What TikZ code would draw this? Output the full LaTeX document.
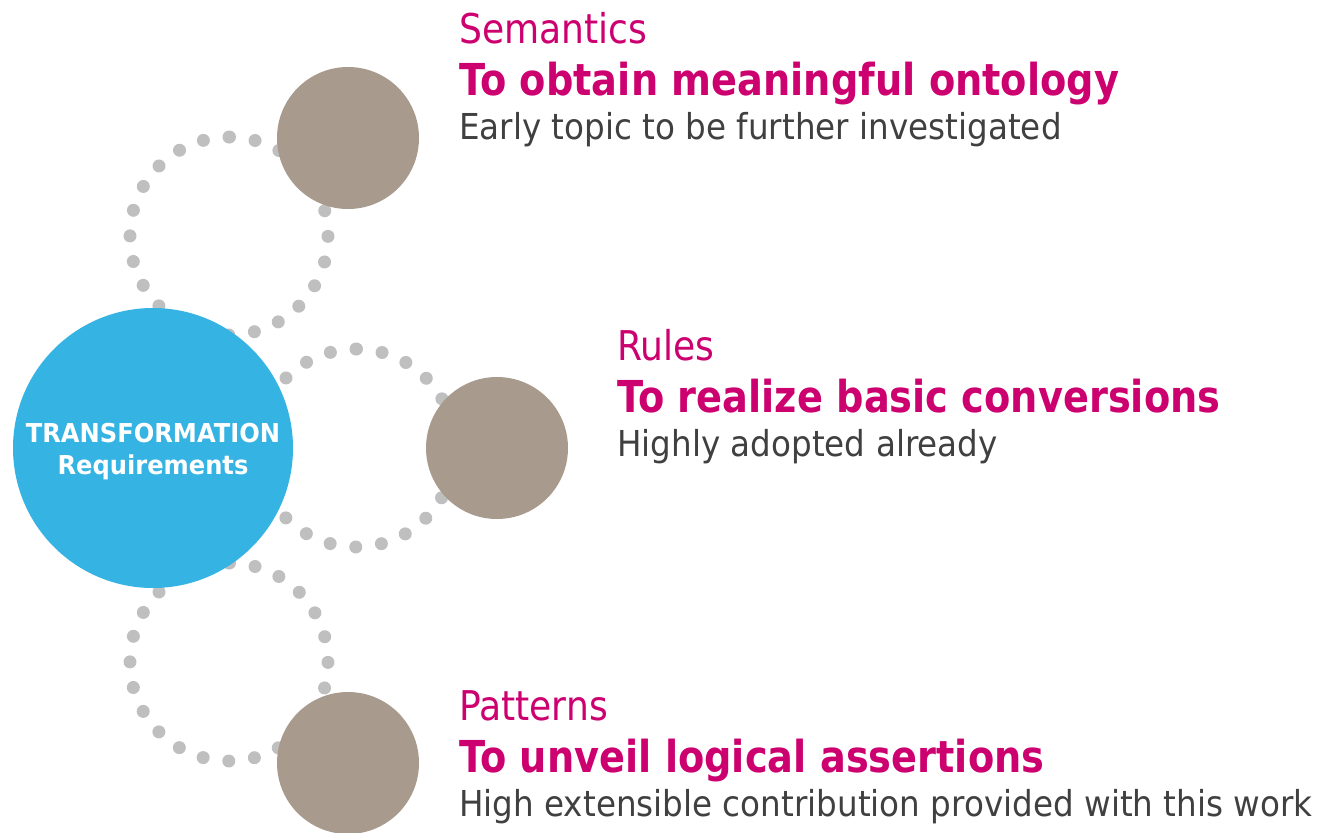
\documentclass[tikz,border=0pt]{standalone}
\usepackage{fontspec}
\newfontfamily\sidefont[FakeStretch=0.88]{DejaVu Sans}
\newfontfamily\goalfont[FakeStretch=0.871]{DejaVu Sans}
\newfontfamily\notefont[FakeStretch=0.913]{DejaVu Sans}
\newfontfamily\hubfont[FakeStretch=0.93]{DejaVu Sans}
\definecolor{hubblue}{HTML}{35B3E3}
\definecolor{taupe}{HTML}{A89B8E}
\definecolor{dotgrey}{HTML}{BFBFBF}
\definecolor{accent}{HTML}{CC006F}
\definecolor{bodygrey}{HTML}{404040}
\begin{document}
\begin{tikzpicture}[x=1pt,y=-1pt,
  ring/.style={circle, minimum size=198pt, inner sep=0pt, rotate=90,
    draw=dotgrey, line width=13pt, line cap=round, dash pattern=on 0pt off 25.9pt},
  hub/.style={circle, fill=hubblue, minimum size=280pt, inner sep=0pt},
  hubtext/.style={inner sep=0pt, text=white, align=center,
    font=\hubfont\bfseries\fontsize{26}{32}\selectfont},
  topic/.style={circle, fill=taupe, minimum size=142pt, inner sep=0pt},
  heading/.style={anchor=base west, inner sep=0pt, text=accent,
    font=\sidefont\fontsize{41}{41}\selectfont},
  goal/.style={anchor=base west, inner sep=0pt, text=accent,
    font=\goalfont\bfseries\fontsize{44}{44}\selectfont},
  note/.style={anchor=base west, inner sep=0pt, text=bodygrey,
    font=\notefont\fontsize{35.7}{35.7}\selectfont}]
\useasboundingbox (0,0) rectangle (1326,833);

% dotted rings linking the hub to the three topics
\node[ring] (ringtop) at (229,236) {};
\node[ring] (ringmid) at (356,448) {};
\node[ring] (ringbot) at (229,662) {};

% hub and topic discs
\node[hub] (hub) at (153,448) {};
\node[hubtext] (hublabel) at ([yshift=-4pt]hub.center) {TRANSFORMATION\\Requirements};
\node[topic] (semantics) at (348,138) {};
\node[topic] (rules) at (497,448) {};
\node[topic] (patterns) at (348,763) {};

% topic descriptions
\node[heading] (semh) at (459,43) {Semantics};
\node[goal]    (semg) at (459,95) {To obtain meaningful ontology};
\node[note]    (semn) at (459,139) {Early topic to be further investigated};

\node[heading] (rulh) at (617,360) {Rules};
\node[goal]    (rulg) at (617,412) {To realize basic conversions};
\node[note]    (ruln) at (617,456) {Highly adopted already};

\node[heading] (path) at (459,720) {Patterns};
\node[goal]    (patg) at (459,772) {To unveil logical assertions};
\node[note]    (patn) at (459,816) {High extensible contribution provided with this work};
\end{tikzpicture}
\end{document}
